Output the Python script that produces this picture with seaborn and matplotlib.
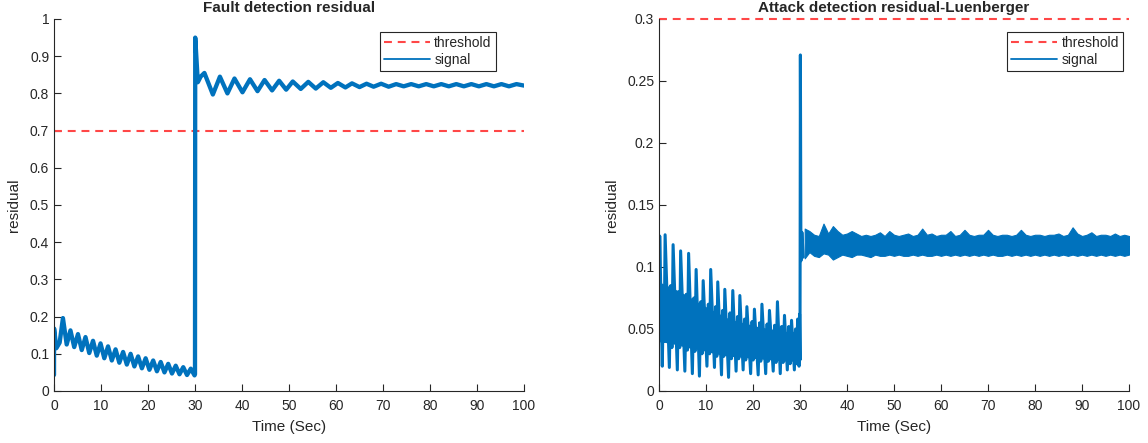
import numpy as np
import pandas as pd
import seaborn as sns
import matplotlib.pyplot as plt
from matplotlib.lines import Line2D
from matplotlib.ticker import FuncFormatter

# fault detection residual (left), peaks/troughs
fault_t = [0.0, 0.02, 0.5, 1.2, 1.9, 2.7, 3.5, 4.3, 5.1, 5.9, 6.7, 7.5, 8.3, 9.1, 9.9,
           10.7, 11.5, 12.3, 13.1, 13.9, 14.7, 15.5, 16.3, 17.1, 17.9, 18.7, 19.5,
           20.3, 21.1, 21.9, 22.7, 23.5, 24.3, 25.1, 25.9, 26.7, 27.5, 28.3, 29.1,
           29.9, 30.0, 30.05, 30.6, 31.2, 32.0, 33.8, 35.3, 36.9, 38.4, 40.1, 41.7,
           43.3, 44.8, 46.4, 47.9, 49.4, 50.8, 52.5, 54.1, 55.7, 57.3, 58.9, 60.4,
           62.0, 63.4, 65.0, 66.5, 68.0, 69.6, 71.2, 72.8, 74.4, 76.0, 77.6, 79.2,
           80.8, 82.4, 84.0, 85.6, 87.2, 88.8, 90.4, 92.0, 93.6, 95.2, 96.8, 98.4, 100.0]
fault_r = [0.043, 0.168, 0.115, 0.13, 0.196, 0.125, 0.163, 0.118, 0.153, 0.11, 0.145,
           0.102, 0.135, 0.095, 0.128, 0.088, 0.12, 0.082, 0.112, 0.076, 0.105, 0.071,
           0.1, 0.066, 0.093, 0.061, 0.088, 0.057, 0.082, 0.053, 0.078, 0.05, 0.073,
           0.047, 0.068, 0.045, 0.064, 0.043, 0.06, 0.042, 0.045, 0.95, 0.83, 0.845,
           0.855, 0.797, 0.845, 0.8, 0.84, 0.803, 0.838, 0.806, 0.836, 0.808, 0.834,
           0.81, 0.832, 0.812, 0.831, 0.813, 0.83, 0.815, 0.828, 0.816, 0.827, 0.817,
           0.826, 0.818, 0.826, 0.818, 0.825, 0.819, 0.825, 0.819, 0.825, 0.819, 0.825,
           0.819, 0.825, 0.819, 0.825, 0.819, 0.825, 0.819, 0.825, 0.819, 0.825, 0.821]
fault_threshold = 0.7

# attack detection residual (right), 0-30 s: peak, trough, mid-high, mid-low per cycle
attack_t = [0.0, 0.15, 0.7, 0.95, 1.1, 1.3, 2.2, 2.5, 2.75, 3.0, 3.9, 4.15, 4.4,
            4.6, 5.5, 5.8, 6.05, 6.3, 7.1, 7.4, 7.65, 7.9, 8.6, 8.9, 9.15, 9.4, 10.2,
            10.5, 10.75, 11.0, 11.8, 12.05, 12.3, 12.5, 13.3, 13.55, 13.8, 14.0, 14.8,
            15.1, 15.4, 15.7, 16.4, 16.7, 16.95, 17.2, 17.9, 18.2, 18.45, 18.7, 19.5,
            19.8, 20.05, 20.3, 21.1, 21.4, 21.65, 21.9, 22.7, 23.0, 23.25, 23.5, 24.3,
            24.6, 24.9, 25.2, 25.8, 26.1, 26.4, 26.7, 27.3, 27.6, 27.9, 28.2, 28.8,
            29.05, 29.25, 29.5, 29.8, 29.9, 30.0, 30.08, 30.2, 30.4, 30.7]
attack_r = [0.04, 0.125, 0.02, 0.08, 0.04, 0.126, 0.019, 0.085, 0.035, 0.118, 0.017,
            0.08, 0.035, 0.113, 0.016, 0.078, 0.033, 0.111, 0.014, 0.075, 0.032, 0.098,
            0.012, 0.072, 0.03, 0.089, 0.02, 0.07, 0.03, 0.098, 0.019, 0.068, 0.028,
            0.088, 0.013, 0.065, 0.028, 0.082, 0.011, 0.063, 0.026, 0.081, 0.016, 0.06,
            0.026, 0.077, 0.017, 0.058, 0.025, 0.068, 0.014, 0.056, 0.025, 0.066, 0.013,
            0.055, 0.024, 0.07, 0.014, 0.054, 0.024, 0.065, 0.016, 0.053, 0.023, 0.072,
            0.014, 0.052, 0.023, 0.061, 0.017, 0.052, 0.022, 0.057, 0.017, 0.05, 0.022,
            0.058, 0.02, 0.062, 0.025, 0.271, 0.105, 0.128, 0.108]

# dense core of the 0-30 s oscillation
core_t = [0, 3, 6, 9, 12, 15, 18, 21, 24, 27, 30]
core_lo = [0.04, 0.038, 0.035, 0.033, 0.03, 0.028, 0.027, 0.026, 0.025, 0.024, 0.024]
core_hi = [0.088, 0.083, 0.077, 0.07, 0.064, 0.058, 0.055, 0.052, 0.05, 0.048, 0.048]

# attack residual after 30 s: noisy band, upper / lower edge every second
band_t = list(range(31, 101))
band_hi = [0.131, 0.129, 0.126, 0.125, 0.135, 0.127, 0.133, 0.129, 0.126, 0.127,
           0.129, 0.127, 0.125, 0.126, 0.125, 0.126, 0.128, 0.125, 0.129, 0.126,
           0.125, 0.126, 0.127, 0.125, 0.126, 0.131, 0.126, 0.127, 0.125, 0.126,
           0.126, 0.129, 0.125, 0.126, 0.13, 0.126, 0.125, 0.126, 0.126, 0.13,
           0.126, 0.125, 0.126, 0.126, 0.125, 0.126, 0.13, 0.126, 0.125, 0.126,
           0.126, 0.125, 0.126, 0.126, 0.127, 0.125, 0.126, 0.132, 0.127, 0.125,
           0.126, 0.128, 0.125, 0.126, 0.126, 0.125, 0.127, 0.125, 0.126, 0.125]
band_lo = [0.107, 0.112, 0.109, 0.108, 0.111, 0.11, 0.106, 0.108, 0.11, 0.109,
           0.108, 0.11, 0.11, 0.109, 0.108, 0.11, 0.109, 0.109, 0.11, 0.109,
           0.11, 0.109, 0.109, 0.11, 0.109, 0.11, 0.109, 0.109, 0.11, 0.109,
           0.11, 0.109, 0.11, 0.109, 0.11, 0.109, 0.11, 0.109, 0.11, 0.109,
           0.11, 0.109, 0.109, 0.11, 0.109, 0.11, 0.109, 0.11, 0.109, 0.11,
           0.109, 0.11, 0.109, 0.11, 0.109, 0.11, 0.109, 0.11, 0.109, 0.11,
           0.109, 0.11, 0.109, 0.11, 0.109, 0.11, 0.109, 0.11, 0.109, 0.11]
attack_threshold = 0.3

blue = '#0072BD'
red = '#FF4747'
dark = '#262626'
dash = (0, (3.8, 2.8))

sns.set_style('ticks', {'xtick.direction': 'in', 'ytick.direction': 'in'})
plt.rcParams['font.family'] = ['Liberation Sans', 'DejaVu Sans']
plt.rcParams['font.size'] = 10

fig = plt.figure(figsize=(11.48, 4.43), dpi=100)
ax1 = fig.add_axes([54 / 1148, 1 - 391 / 443, 470 / 1148, 372 / 443])
ax2 = fig.add_axes([659 / 1148, 1 - 391 / 443, 470 / 1148, 372 / 443])

fault = pd.DataFrame({'t': fault_t, 'r': fault_r})
attack = pd.DataFrame({'t': attack_t, 'r': attack_r})

ax1.axhline(fault_threshold, color=red, ls=dash, lw=1.5)
sns.lineplot(data=fault, x='t', y='r', ax=ax1, sort=False, estimator=None,
             color=blue, lw=3.1)

ax2.axhline(attack_threshold, color=red, ls=dash, lw=1.5, clip_on=False)
ax2.fill_between(core_t, core_lo, core_hi, color=blue, lw=0)
sns.lineplot(data=attack, x='t', y='r', ax=ax2, sort=False, estimator=None,
             color=blue, lw=2.2)
ax2.fill_between(band_t, band_lo, band_hi, color=blue, lw=0.8, edgecolor=blue)

handles = [Line2D([], [], color=red, ls=dash, lw=1.5),
           Line2D([], [], color=blue, lw=1.3)]
labels = ['threshold', 'signal']

fmt = FuncFormatter(lambda v, p: '%g' % round(v, 3))
for ax, title, ymax, ystep, anchor in [
        (ax1, 'Fault detection residual', 1.0, 0.1, (0.94, 0.965)),
        (ax2, 'Attack detection residual-Luenberger', 0.3, 0.05, (0.987, 0.965))]:
    ax.set_xlim(0, 100)
    ax.set_ylim(0, ymax)
    ax.set_xticks(np.arange(0, 101, 10))
    ax.set_yticks(np.arange(0, ymax + 1e-9, ystep))
    ax.yaxis.set_major_formatter(fmt)
    ax.tick_params(length=5, width=0.8, color=dark, labelcolor=dark, labelsize=10)
    ax.tick_params(axis='x', pad=6)
    for s in ['top', 'right']:
        ax.spines[s].set_visible(False)
    for s in ['left', 'bottom']:
        ax.spines[s].set_color(dark)
        ax.spines[s].set_linewidth(0.8)
    ax.set_title(title, fontsize=11, fontweight='bold', pad=5)
    ax.set_xlabel('Time (Sec)', fontsize=11, color=dark, labelpad=5)
    ax.set_ylabel('residual', fontsize=11, color=dark, labelpad=6)
    leg = ax.legend(handles, labels, loc='upper right', bbox_to_anchor=anchor,
                    borderaxespad=0, fancybox=False, framealpha=1, edgecolor=dark,
                    fontsize=10, handlelength=3.3, handletextpad=0.3, borderpad=0.3,
                    labelspacing=0.2)
    leg.get_frame().set_linewidth(0.8)

fig.savefig('out.png', dpi=100)
